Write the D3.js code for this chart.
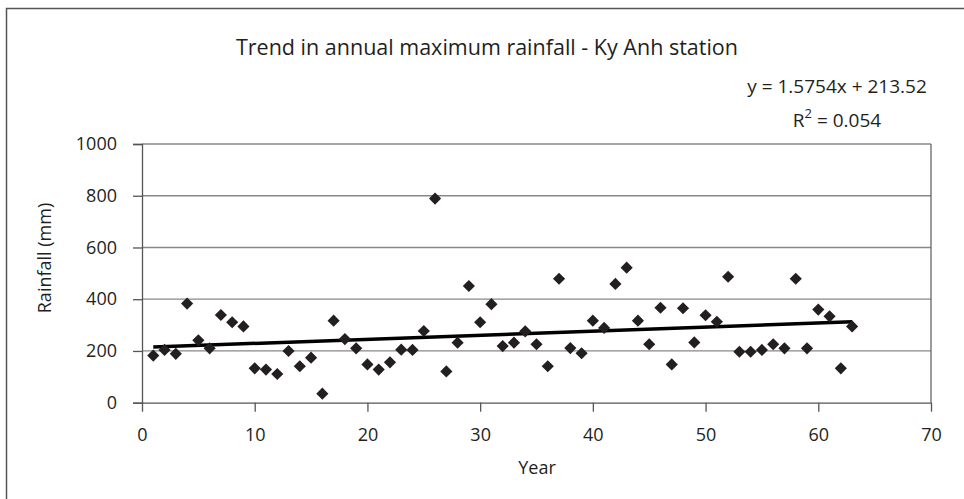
<!DOCTYPE html>
<html><head><meta charset="utf-8">
<script src="https://cdn.jsdelivr.net/npm/d3@7"></script>
<style>body{margin:0;background:#fff}svg{display:block}text{font-family:"Open Sans",sans-serif;fill:#231f20}</style>
</head><body><svg id="c" width="964" height="499"></svg>
<script>
const years = d3.range(1, 64);
const rainfall = [182,204,189,383,241,210,339,311,295,133,128,111,200,141,174,35,317,246,210,148,128,156,205,204,277,789,121,232,451,311,381,219,232,276,226,141,479,211,191,317,289,459,522,317,226,367,148,365,233,338,313,487,197,197,204,226,210,479,210,360,334,133,295];
const xTicks = [0,10,20,30,40,50,60,70];
const yTicks = [0,200,400,600,800,1000];
const slope = 1.5754, intercept = 213.52;
const title = "Trend in annual maximum rainfall - Ky Anh station";

const svg = d3.select("#c");
const L = 142, R = 931, T = 144, B = 402.7;
const x = d3.scaleLinear().domain([0,70]).range([L,R]);
const y = d3.scaleLinear().domain([0,1000]).range([B,T]);

svg.append("rect").attr("x",6.5).attr("y",8.5).attr("width",1000).attr("height",600)
  .attr("fill","none").attr("stroke","#555").attr("stroke-width",1.5);

svg.append("g").selectAll("line").data(yTicks.filter(d=>d>0)).join("line")
  .attr("x1",L).attr("x2",R).attr("y1",d=>y(d)).attr("y2",d=>y(d))
  .attr("stroke","#888").attr("stroke-width",1.3);
svg.append("line").attr("x1",R).attr("x2",R).attr("y1",T).attr("y2",B).attr("stroke","#666").attr("stroke-width",1.3);

const ya = svg.append("g").attr("transform",`translate(${L},0)`)
  .call(d3.axisLeft(y).tickValues(yTicks).tickSize(9).tickPadding(16).tickFormat(d3.format("d")));
ya.select(".domain").attr("stroke","#555").attr("stroke-width",1.3);
ya.selectAll(".tick line").attr("stroke","#555").attr("stroke-width",1.3);
ya.selectAll("text").attr("font-size",18).attr("fill","#231f20").attr("font-family","Open Sans");

const xa = svg.append("g").attr("transform",`translate(0,${B})`)
  .call(d3.axisBottom(x).tickValues(xTicks).tickSize(9).tickPadding(17).tickSizeOuter(0));
xa.select(".domain").attr("stroke","#555").attr("stroke-width",1.3);
xa.selectAll(".tick line").attr("stroke","#555").attr("stroke-width",1.3);
xa.selectAll("text").attr("font-size",18).attr("fill","#231f20").attr("font-family","Open Sans");

svg.append("line")
  .attr("x1",x(1)).attr("y1",y(slope*1+intercept))
  .attr("x2",x(63)).attr("y2",y(slope*63+intercept))
  .attr("stroke","#000").attr("stroke-width",3.5);

const sym = d3.symbol().type(d3.symbolSquare).size(74);
svg.append("g").selectAll("path").data(years).join("path")
  .attr("d",sym)
  .attr("transform",(d,i)=>`translate(${x(d)},${y(rainfall[i])}) rotate(45)`)
  .attr("fill","#231f20");

svg.append("text").attr("x",487).attr("y",55).attr("text-anchor","middle").attr("font-size",21.5).text(title);
svg.append("text").attr("x",837).attr("y",93).attr("text-anchor","middle").attr("font-size",19)
  .text(`y = ${slope}x + ${intercept}`);
const r2 = svg.append("text").attr("x",837).attr("y",127).attr("text-anchor","middle").attr("font-size",19);
r2.append("tspan").text("R");
r2.append("tspan").attr("dy",-9).attr("font-size",13).text("2");
r2.append("tspan").attr("dy",9).text(" = 0.054");

svg.append("text").attr("x",537).attr("y",474).attr("text-anchor","middle").attr("font-size",18).text("Year");
svg.append("text").attr("transform","translate(51,258) rotate(-90)").attr("text-anchor","middle").attr("font-size",18).text("Rainfall (mm)");
</script></body></html>
